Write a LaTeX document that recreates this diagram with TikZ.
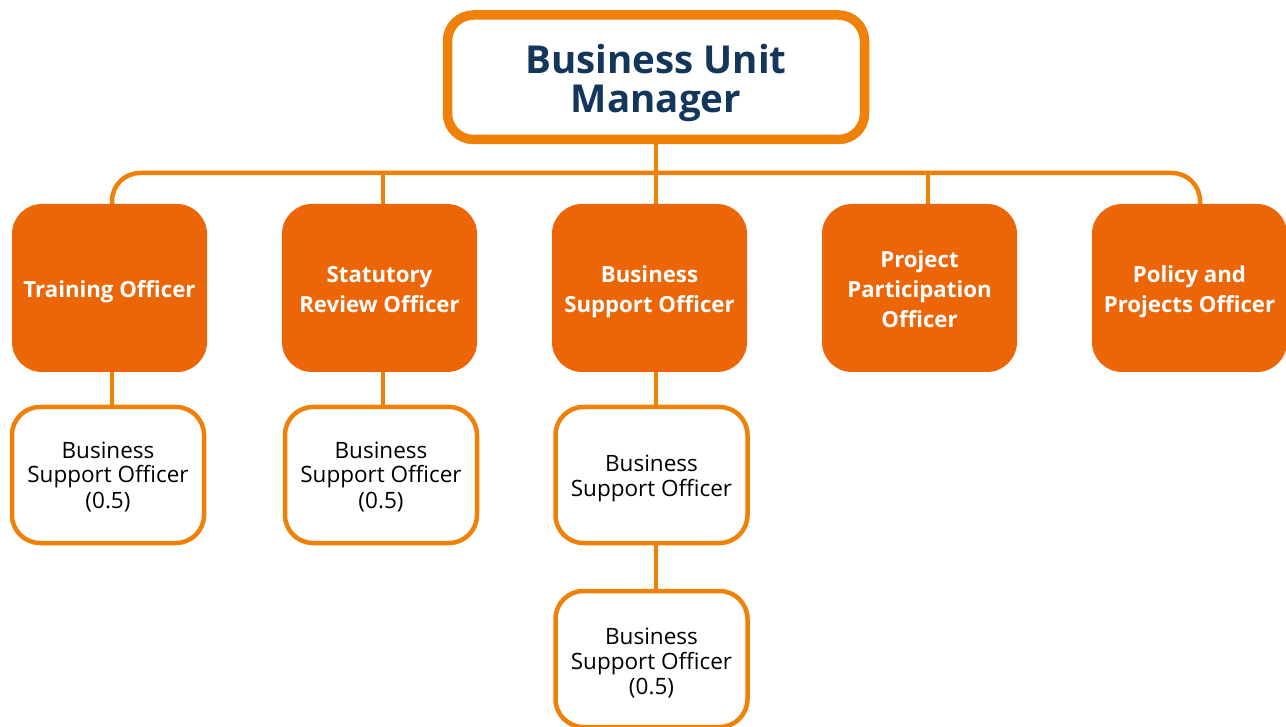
\documentclass[tikz,border=0pt]{standalone}
\usepackage{fontspec}
\setmainfont{Open Sans}
\definecolor{lineor}{HTML}{EF8008}
\definecolor{fillor}{HTML}{EC6608}
\definecolor{navy}{HTML}{14365A}
\newcommand{\lowtxt}[2]{\raisebox{-#1}[\height][\depth]{\begin{tabular}{@{}c@{}}#2\end{tabular}}}
\begin{document}
\begin{tikzpicture}[x=1pt,y=-1pt,
  conn/.style={draw=lineor,line width=4.5pt},
  topbox/.style={draw=lineor,line width=9.5pt,fill=white,rounded corners=26pt,
    minimum width=417pt,minimum height=124.5pt,text=navy,
    font=\fontsize{38.5}{37}\selectfont\bfseries,inner sep=0pt},
  rolebox/.style={fill=fillor,rounded corners=30pt,minimum width=195pt,minimum height=168pt,
    text=white,font=\fontsize{22.2}{30}\selectfont\bfseries,inner sep=0pt},
  subbox/.style={draw=lineor,line width=4.5pt,fill=white,rounded corners=28pt,
    minimum width=192pt,minimum height=136pt,text=black,
    font=\fontsize{22.5}{25}\selectfont,inner sep=0pt}]
\useasboundingbox (0,0) rectangle (1286,727);
\fill[white] (0,0) rectangle (1286,727);
\coordinate (hl) at (656,173);
\node[topbox] (bum) at (656,77.25) {\lowtxt{6.5pt}{Business Unit\\Manager}};
\node[rolebox] (tr) at (109.5,288) {\lowtxt{4pt}{Training Officer}};
\node[rolebox] (st) at (379.5,288) {\lowtxt{4pt}{Statutory\\Review Officer}};
\node[rolebox] (bs) at (649.5,288) {\lowtxt{4pt}{Business\\Support Officer}};
\node[rolebox] (pp) at (919.5,288) {\lowtxt{4pt}{Project\\Participation\\Officer}};
\node[rolebox] (po) at (1189.5,288) {\lowtxt{4pt}{Policy and\\Projects Officer}};
\node[subbox] (s1) at (108,475) {\lowtxt{3pt}{Business\\Support Officer\\(0.5)}};
\node[subbox] (s2) at (381,475) {\lowtxt{3pt}{Business\\Support Officer\\(0.5)}};
\node[subbox] (s3) at (651.5,475) {\lowtxt{4pt}{Business\\Support Officer}};
\node[subbox] (s4) at (651.5,659) {\lowtxt{5pt}{Business\\Support Officer\\(0.5)}};
\draw[conn,rounded corners=28pt] ([xshift=2.5pt]tr.north) |- (hl) -| ([xshift=10.5pt]po.north);
\draw[conn] (bum.south) -- (hl);
\draw[conn] ([xshift=3.5pt]st.north) -- ([xshift=3.5pt]st.north |- hl);
\draw[conn] ([xshift=6.5pt]bs.north) -- ([xshift=6.5pt]bs.north |- hl);
\draw[conn] ([xshift=8.5pt]pp.north) -- ([xshift=8.5pt]pp.north |- hl);
\draw[conn] ([xshift=2.5pt]tr.south) -- ([xshift=2.5pt]tr.south |- s1.north);
\draw[conn] ([xshift=3.5pt]st.south) -- ([xshift=3.5pt]st.south |- s2.north);
\draw[conn] ([xshift=6.5pt]bs.south) -- ([xshift=6.5pt]bs.south |- s3.north);
\draw[conn] ([xshift=4.5pt]s3.south) -- ([xshift=4.5pt]s4.north);
\end{tikzpicture}
\end{document}
